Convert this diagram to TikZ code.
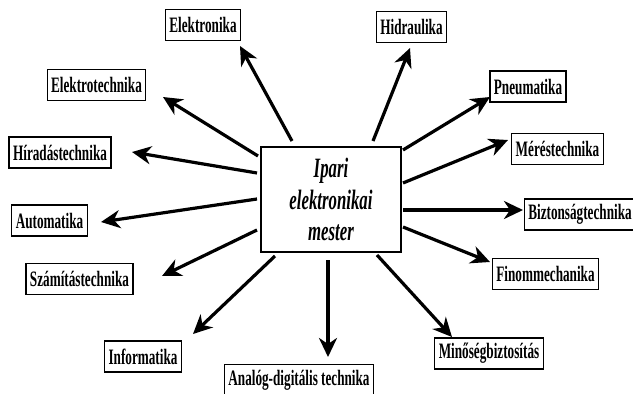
\documentclass[tikz,border=0pt]{standalone}
\usepackage{fontspec}
\setmainfont{Liberation Serif}[FakeStretch=0.6]
\usetikzlibrary{arrows.meta}
\begin{document}
\begin{tikzpicture}[x=1pt,y=-1pt,
  lbl/.style={draw, line width=1.3pt, inner xsep=4pt, inner ysep=1pt, minimum height=31pt,
    font=\fontsize{22}{23}\selectfont\bfseries},
  arr/.style={line width=3.2pt, -{Stealth[length=19pt,width=18pt,inset=6pt]}}]
\useasboundingbox (0,0) rectangle (633,394);
\fill[white] (0,0) rectangle (633,394);
% centre
\node[draw, line width=1.3pt, minimum width=140pt, minimum height=105pt, align=center,
  font=\fontsize{28}{31.5}\selectfont\bfseries\itshape] (ipari) at (331,199.5) {Ipari\\elektronikai\\mester};
% boxes
\node[lbl] (elektronika) at (203,25) {Elektronika};
\node[lbl] (elektrotech) at (96.5,85) {Elektrotechnika};
\node[lbl] (hirad) at (60,152.5) {Híradástechnika};
\node[lbl] (autom) at (49.5,220.5) {Automatika};
\node[lbl] (szamit) at (79.5,279) {Számítástechnika};
\node[lbl] (inform) at (143,356.5) {Informatika};
\node[lbl] (analog) at (299,380) {Analóg-digitális technika};
\node[lbl] (minoseg) at (489,353.5) {Minőségbiztosítás};
\node[lbl] (finom) at (545.5,274) {Finommechanika};
\node[lbl] (bizton) at (580,214.5) {Biztonságtechnika};
\node[lbl] (meres) at (557.5,149) {Méréstechnika};
\node[lbl] (pneum) at (528,86.5) {Pneumatika};
\node[lbl] (hidr) at (411.5,27) {Hidraulika};
% arrow end points
\coordinate (s-elektronika) at (292,141); \coordinate (t-elektronika) at (240,46);
\coordinate (s-elektrotech) at (258,156); \coordinate (t-elektrotech) at (163,97);
\coordinate (s-hirad) at (257,173); \coordinate (t-hirad) at (132,152);
\coordinate (s-autom) at (257,199); \coordinate (t-autom) at (101,222);
\coordinate (s-szamit) at (257,230); \coordinate (t-szamit) at (162,276);
\coordinate (s-inform) at (275,256); \coordinate (t-inform) at (193,334);
\coordinate (s-analog) at (328,260); \coordinate (t-analog) at (328,357);
\coordinate (s-minoseg) at (377,255); \coordinate (t-minoseg) at (452,337);
\coordinate (s-finom) at (403,227); \coordinate (t-finom) at (490,262);
\coordinate (s-bizton) at (403,210); \coordinate (t-bizton) at (523,210);
\coordinate (s-meres) at (403,183); \coordinate (t-meres) at (508,140);
\coordinate (s-pneum) at (403,150); \coordinate (t-pneum) at (490,97);
\coordinate (s-hidr) at (373,141); \coordinate (t-hidr) at (410,48);
\foreach \n in {elektronika,elektrotech,hirad,autom,szamit,inform,analog,minoseg,finom,bizton,meres,pneum,hidr}
  \draw[arr] (s-\n) -- (t-\n);
\end{tikzpicture}
\end{document}
